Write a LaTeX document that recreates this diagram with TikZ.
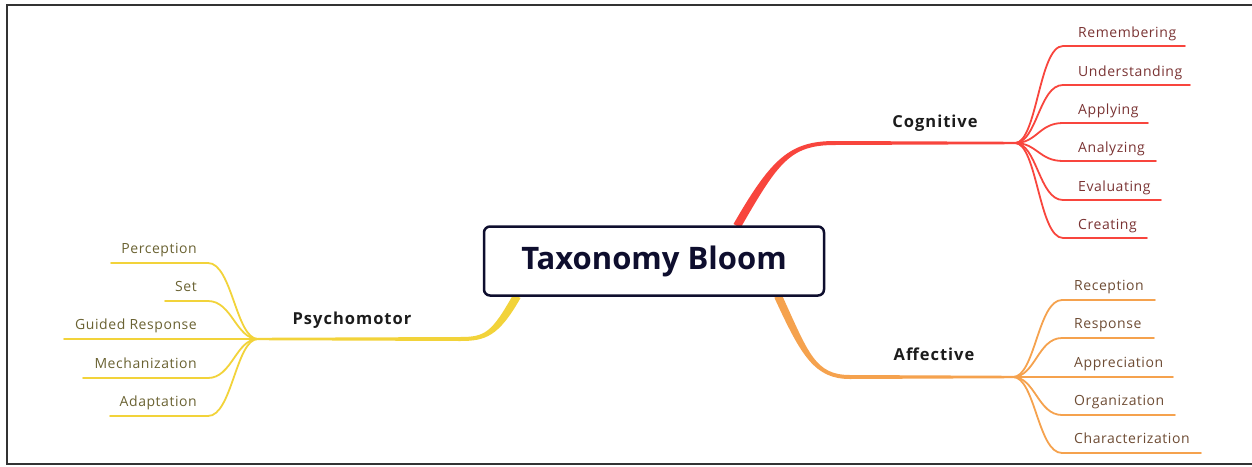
\documentclass[tikz,border=0pt]{standalone}
\usepackage{fontspec}
\setmainfont{Open Sans}
\newfontfamily\leaffont[LetterSpace=4]{Open Sans}
\newfontfamily\mainfont[LetterSpace=6]{Open Sans}
\definecolor{cogC}{HTML}{F8453D}
\definecolor{affC}{HTML}{F5A24E}
\definecolor{psyC}{HTML}{F2D33A}
\definecolor{navy}{HTML}{0E0E2E}
\definecolor{cogT}{HTML}{7A3333}
\definecolor{affT}{HTML}{6E4C34}
\definecolor{psyT}{HTML}{6A6232}
\definecolor{lblT}{HTML}{1C1C1C}
\definecolor{frameC}{HTML}{333333}
\tikzset{
  framestyle/.style={draw=frameC, line width=1.5},
  rootbox/.style={draw=navy, fill=white, line width=2.5, rounded corners=6,
    minimum width=340, minimum height=69, inner sep=0,
    font=\fontsize{31}{36}\selectfont\bfseries, text=navy},
  mainlbl/.style={font=\mainfont\fontsize{16.5}{20}\selectfont\bfseries, text=lblT, inner sep=0},
  leaflbl/.style={font=\leaffont\fontsize{14}{17}\selectfont, inner sep=0},
  leafline/.style={line width=1.8, line cap=round},
}
\begin{document}
\begin{tikzpicture}[x=1pt,y=-1pt]
\useasboundingbox (0,0) rectangle (1252,466);
\draw[framestyle] (1252,5) -- (7,5) -- (7,464) -- (1252,464);

% junction coordinates
\coordinate (cogJ) at (1015,143);
\coordinate (affJ) at (1013,377);
\coordinate (psyJ) at (258,339);

% main branches (tapered)
\fill[cogC] (733.5,224) .. controls (771.5,158) and (790,141) .. (835,141) -- (1015,141.8)
  -- (1015,144.2) -- (835,145) .. controls (790,145) and (778.5,162) .. (740.5,228) -- cycle;
\fill[affC] (781.6,294.3) .. controls (808.6,353.3) and (815,375) .. (850,375) -- (1013,375.8)
  -- (1013,378.2) -- (850,379) .. controls (815,379) and (801.4,356.7) .. (774.4,297.7) -- cycle;
\fill[psyC] (520.5,298) .. controls (498.5,337) and (485,341) .. (460,341) -- (258,340.2)
  -- (258,337.8) -- (460,337) .. controls (485,337) and (491.5,333) .. (513.5,294) -- cycle;

% root
\node[rootbox] (root) at (654,261) {Taxonomy Bloom};

% main labels
\node[mainlbl, anchor=base] (cog) at (935,127) {Cognitive};
\node[mainlbl, anchor=base] (aff) at (934,360) {Affective};
\node[mainlbl, anchor=base] (psy) at (352,324) {Psychomotor};

% cognitive leaves
\foreach \y/\e/\t [count=\i] in {46/1185/Remembering, 85/1190/Understanding, 123/1148/Applying,
    161/1156/Analyzing, 200/1161/Evaluating, 238/1147/Creating}{
  \coordinate (cs\i) at (1063,\y);
  \coordinate (ce\i) at (\e,\y);
  \draw[cogC, leafline] (cogJ) .. controls +(22,0) and +(-24,0) .. (cs\i) -- (ce\i);
  \node[leaflbl, text=cogT, anchor=base west] (cl\i) at (1078,\y-9) {\t};
}
% affective leaves
\foreach \y/\e/\t [count=\i] in {300/1155/Reception, 338/1154/Response, 377/1173/Appreciation,
    415/1175/Organization, 453/1201/Characterization}{
  \coordinate (as\i) at (1062,\y);
  \coordinate (ae\i) at (\e,\y);
  \draw[affC, leafline] (affJ) .. controls +(22,0) and +(-24,0) .. (as\i) -- (ae\i);
  \node[leaflbl, text=affT, anchor=base west] (al\i) at (1074,\y-10) {\t};
}
% psychomotor leaves
\foreach \y/\e/\t [count=\i] in {263/111/Perception, 301/165/Set, 339/64/Guided Response,
    378/83/Mechanization, 416/110/Adaptation}{
  \coordinate (ps\i) at (208,\y);
  \coordinate (pe\i) at (\e,\y);
  \draw[psyC, leafline] (psyJ) .. controls +(-22,0) and +(24,0) .. (ps\i) -- (pe\i);
  \node[leaflbl, text=psyT, anchor=base east] (pl\i) at (197,\y-10) {\t};
}
\end{tikzpicture}
\end{document}
